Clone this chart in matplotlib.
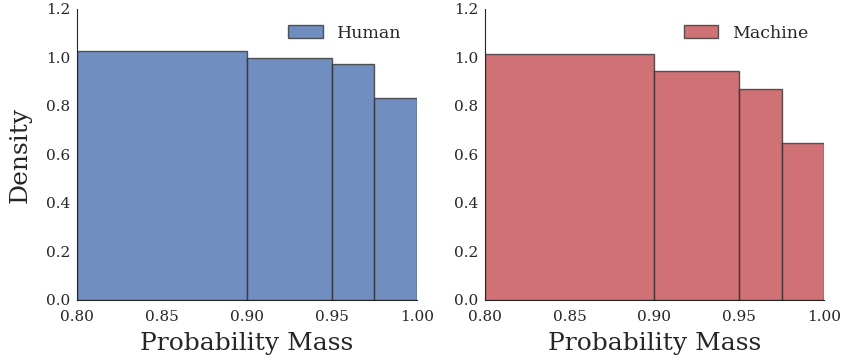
import matplotlib
matplotlib.use('Agg')
import matplotlib.pyplot as plt
import numpy as np

bins = [0.8, 0.9, 0.95, 0.975, 1.0]
human = [1.028, 0.998, 0.973, 0.833]
machine = [1.014, 0.946, 0.870, 0.649]

plt.rcParams['font.family'] = 'DejaVu Serif'
plt.rcParams['text.color'] = '#262626'
plt.rcParams['axes.labelcolor'] = '#262626'
plt.rcParams['xtick.color'] = '#262626'
plt.rcParams['ytick.color'] = '#262626'

fig = plt.figure(figsize=(8.44, 3.6), dpi=100)
ax1 = fig.add_axes([0.0912, 0.1667, 0.4028, 0.8083])
ax2 = fig.add_axes([0.5746, 0.1667, 0.4017, 0.8083])

edges = np.array(bins)
widths = np.diff(edges)

ax1.bar(edges[:-1], human, width=widths, align='edge', color='#4C72B0', alpha=0.8,
        edgecolor='#333333', linewidth=1.0, label='Human')
ax2.bar(edges[:-1], machine, width=widths, align='edge', color='#C44E52', alpha=0.8,
        edgecolor='#333333', linewidth=1.0, label='Machine')

for ax in (ax1, ax2):
    ax.set_xlim(0.8, 1.0)
    ax.set_ylim(0, 1.2)
    ax.set_xticks([0.8, 0.85, 0.9, 0.95, 1.0])
    ax.set_xticklabels(['0.80', '0.85', '0.90', '0.95', '1.00'])
    ax.set_yticks([0.0, 0.2, 0.4, 0.6, 0.8, 1.0, 1.2])
    ax.tick_params(axis='x', length=0, labelsize=11, pad=7)
    ax.tick_params(axis='y', length=0, labelsize=11, pad=5)
    ax.spines['top'].set_visible(False)
    ax.spines['right'].set_visible(False)
    ax.spines['left'].set_color('#262626')
    ax.spines['bottom'].set_color('#262626')
    ax.set_xlabel('Probability Mass', fontsize=18, labelpad=6)
    ax.legend(loc='upper right', frameon=False, fontsize=12.5)

ax1.set_ylabel('Density', fontsize=18, labelpad=10)

fig.savefig('out.png', dpi=100)
